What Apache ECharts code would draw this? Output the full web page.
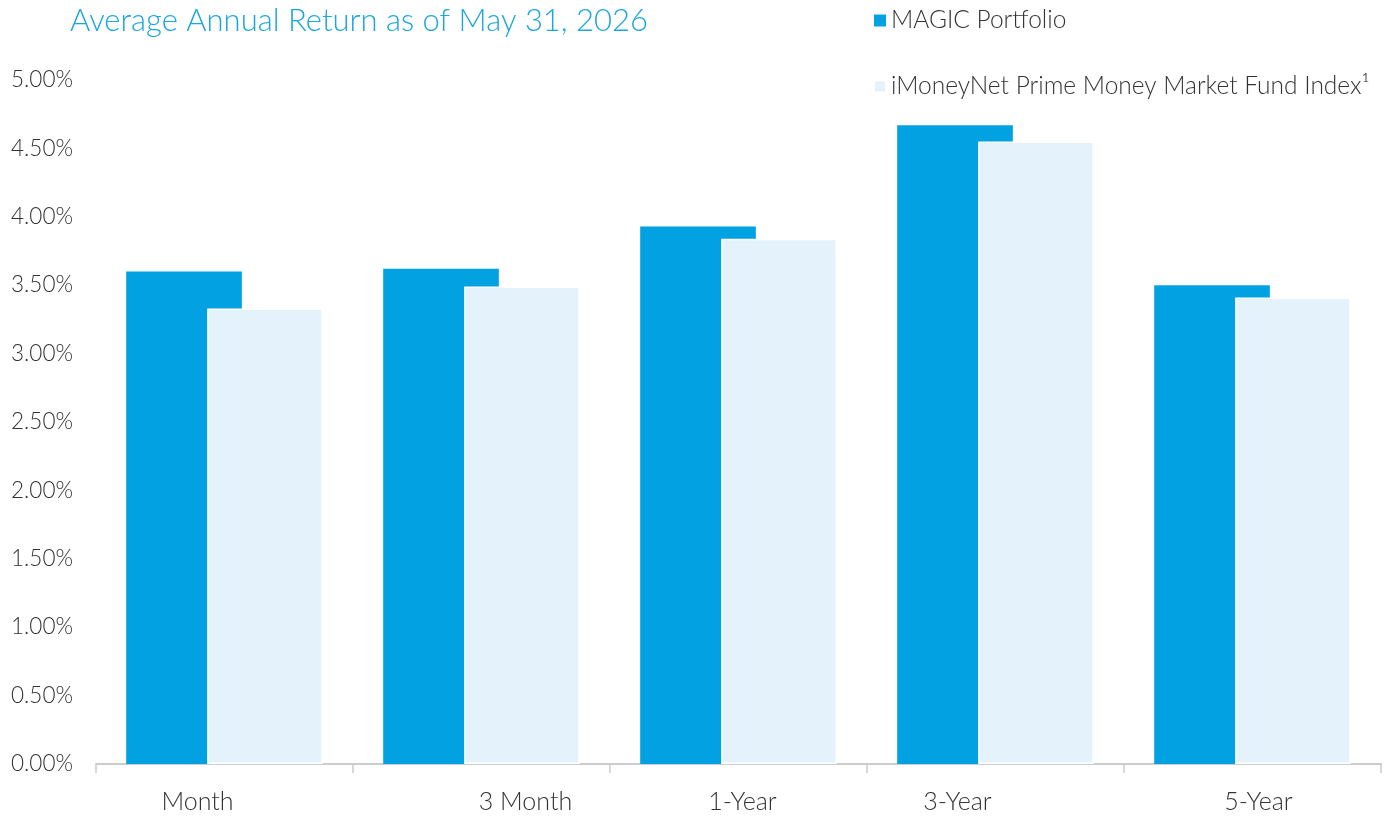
<!DOCTYPE html>
<html>
<head>
<meta charset="utf-8">
<script src="https://cdn.jsdelivr.net/npm/echarts@6/dist/echarts.min.js"></script>
<style>
  html, body { margin: 0; padding: 0; background: #fff; }
  #main { width: 1390px; height: 817px; }
</style>
</head>
<body>
<div id="main"></div>
<script>
var periods = ['Month', '3 Month', '1-Year', '3-Year', '5-Year'];
var magic = [3.60, 3.62, 3.93, 4.67, 3.50];
var imoney = [3.33, 3.49, 3.84, 4.55, 3.41];
var seriesNames = ['MAGIC Portfolio', 'iMoneyNet Prime Money Market Fund Index\u00b9'];

// the source labels sit off-centre, nudge each one
var labelNudge = [-27, 44, 4, -38, 6];

var font = 'Lato, "Open Sans", sans-serif';

var catData = periods.map(function (p, i) {
    var n = labelNudge[i];
    return {
        value: p,
        textStyle: { padding: n >= 0 ? [0, 0, 0, 2 * n] : [0, -2 * n, 0, 0] }
    };
});

var myChart = echarts.init(document.getElementById('main'));
var option = {
    animation: false,
    title: {
        text: 'Average Annual Return as of May 31, 2026',
        left: 65,
        top: 0,
        textStyle: { color: '#1ba6e0', fontSize: 31, fontWeight: 300, fontFamily: font }
    },
    legend: {
        orient: 'vertical',
        left: 868,
        top: 3,
        itemGap: 41,
        itemWidth: 12,
        itemHeight: 12,
        icon: 'rect',
        textStyle: { color: '#333', fontSize: 24.5, fontWeight: 300, fontFamily: font },
        data: seriesNames
    },
    grid: { left: 96, right: 9, top: 80, bottom: 53 },
    xAxis: {
        type: 'category',
        data: catData,
        axisLine: { lineStyle: { color: '#cccccc', width: 2 } },
        axisTick: { show: true, length: 9, lineStyle: { color: '#cccccc', width: 1.5 } },
        axisLabel: { color: '#333', fontSize: 25, fontWeight: 300, fontFamily: font, margin: 25 }
    },
    yAxis: {
        type: 'value',
        min: 0,
        max: 5,
        interval: 0.5,
        splitLine: { show: false },
        axisLine: { show: false },
        axisTick: { show: false },
        axisLabel: {
            color: '#333', fontSize: 22.5, fontWeight: 300, fontFamily: font, margin: 23,
            formatter: function (v) { return v.toFixed(2) + '%'; }
        }
    },
    series: [
        {
            name: seriesNames[0],
            type: 'bar',
            data: magic,
            barWidth: '45%',
            barGap: '-30%',
            itemStyle: { color: '#02a2e2' }
        },
        {
            name: seriesNames[1],
            type: 'bar',
            data: imoney,
            barWidth: '45%',
            itemStyle: { color: '#e4f3fb', borderColor: '#ffffff', borderWidth: 1.5 }
        }
    ]
};
myChart.setOption(option);
</script>
</body>
</html>
